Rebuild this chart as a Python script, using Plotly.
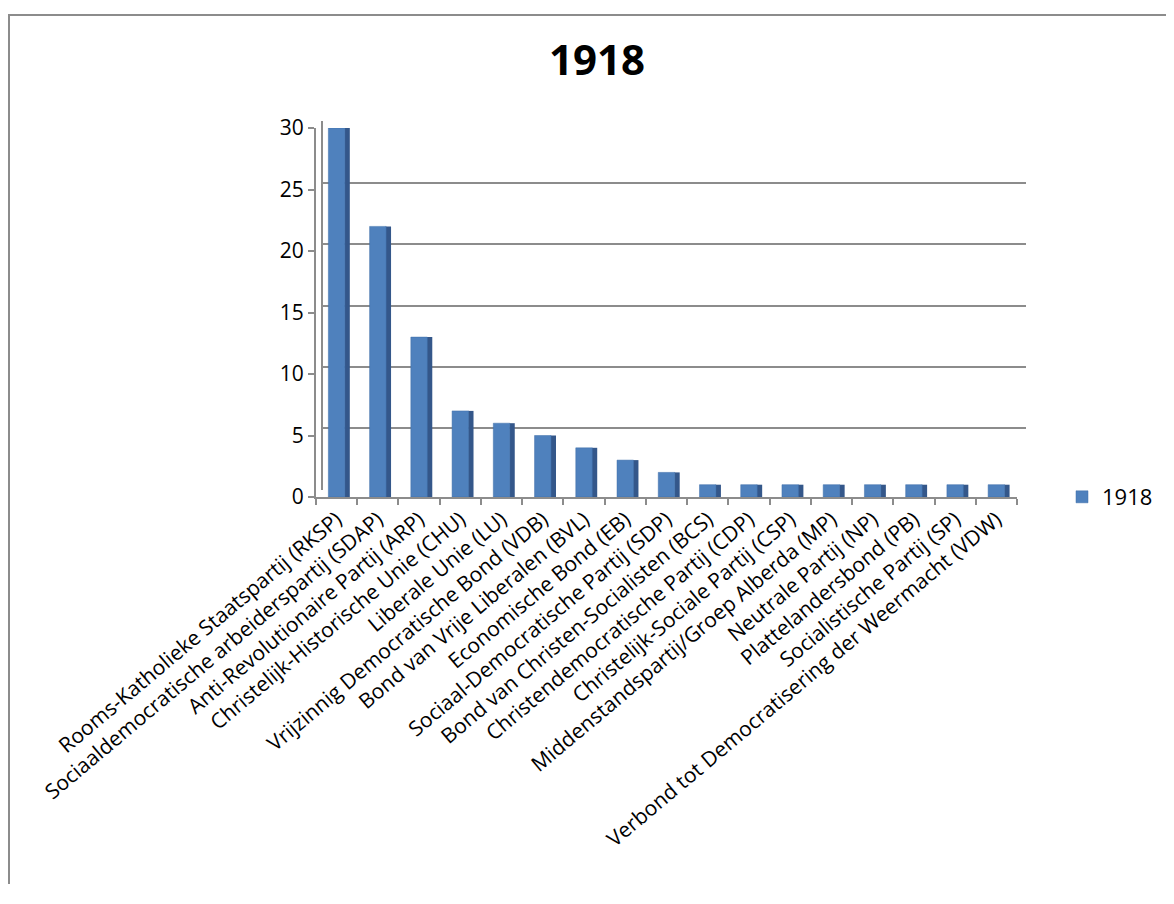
import plotly.graph_objects as go

categories = [
    "Rooms-Katholieke Staatspartij (RKSP)",
    "Sociaaldemocratische arbeiderspartij (SDAP)",
    "Anti-Revolutionaire Partij (ARP)",
    "Christelijk-Historische Unie (CHU)",
    "Liberale Unie (LU)",
    "Vrijzinnig Democratische Bond (VDB)",
    "Bond van Vrije Liberalen (BVL)",
    "Economische Bond (EB)",
    "Sociaal-Democratische Partij (SDP)",
    "Bond van Christen-Socialisten (BCS)",
    "Christendemocratische Partij (CDP)",
    "Christelijk-Sociale Partij (CSP)",
    "Middenstandspartij/Groep Alberda (MP)",
    "Neutrale Partij (NP)",
    "Plattelandersbond (PB)",
    "Socialistische Partij (SP)",
    "Verbond tot Democratisering der Weermacht (VDW)",
]
seats_1918 = [30, 22, 13, 7, 6, 5, 4, 3, 2, 1, 1, 1, 1, 1, 1, 1, 1]
y_ticks = [0, 5, 10, 15, 20, 25, 30]

FONT = "Open Sans"
GRAY = "#8C8C8C"
W, H = 1166, 876
L, T = 308, 113
PW, PH = 710, 376
R, B = W - L - PW, H - T - PH

fig = go.Figure()
# back wall subplot (carries the gridlines); its bars are fully transparent
fig.add_trace(go.Bar(
    x=categories, y=seats_1918, marker=dict(opacity=0),
    showlegend=False, hoverinfo="skip", xaxis="x", yaxis="y",
))
# side face (3D look), on the front subplot
fig.add_trace(go.Bar(
    x=categories, y=seats_1918, width=0.13, offset=0.19,
    marker=dict(color="#34578A", line=dict(width=0)),
    showlegend=False, hoverinfo="skip", xaxis="x2", yaxis="y2",
))
# front face
fig.add_trace(go.Bar(
    x=categories, y=seats_1918, width=0.4, offset=-0.2,
    name="1918", xaxis="x2", yaxis="y2",
    marker=dict(color="#4F81BD", line=dict(color="#3F6FA8", width=0.5)),
))

front_top = (489 - 120) / PH
front_right = (1009 - L) / PW
back_left = 7 / PW
back_bottom = 7 / PH

fig.update_layout(
    barmode="overlay",
    width=W, height=H,
    margin=dict(l=L, r=R, t=T, b=B, autoexpand=False),
    paper_bgcolor="white", plot_bgcolor="rgba(0,0,0,0)",
    title=dict(text="<b>1918</b>", x=589 / W, xanchor="center",
               y=1 - 52 / H, yanchor="middle",
               font=dict(family=FONT, size=42, color="black")),
    font=dict(family=FONT, color="black"),
    legend=dict(xref="container", yref="container",
                x=1054 / W, y=(H - 489) / H, xanchor="left", yanchor="middle",
                font=dict(family=FONT, size=22, color="black"),
                bgcolor="rgba(0,0,0,0)"),
    # back wall: gridlines only
    xaxis=dict(domain=[back_left, 1], range=[-0.5, 16.5], visible=False,
               anchor="y"),
    yaxis=dict(domain=[back_bottom, 1], range=[-0.03, 30.03], tickvals=y_ticks,
               showticklabels=False, ticks="", anchor="x",
               showline=True, linecolor=GRAY, linewidth=2,
               showgrid=True, gridcolor=GRAY, gridwidth=2, zeroline=False),
    # front axes with the bars
    xaxis2=dict(
        domain=[0, front_right], anchor="y2",
        tickangle=-40, tickfont=dict(family=FONT, size=21, color="black"),
        showline=True, linecolor=GRAY, linewidth=2,
        ticks="outside", ticklen=6, tickcolor=GRAY, tickwidth=2,
        showgrid=False, range=[-0.5, 16.5], tickson="boundaries",
    ),
    yaxis2=dict(
        domain=[0, front_top], anchor="x2",
        range=[0, 30], tickvals=y_ticks,
        tickfont=dict(family=FONT, size=21, color="black"),
        showline=True, linecolor=GRAY, linewidth=2,
        ticks="outside", ticklen=6, tickcolor=GRAY, tickwidth=2,
        showgrid=False, zeroline=False,
    ),
)

# chart border (left and top edges fall inside the view)
fig.add_shape(type="rect", xref="paper", yref="paper",
              x0=(1 - L) / PW, x1=(W + 4 - L) / PW,
              y0=(PH + T - H - 4) / PH, y1=(PH + T - 7) / PH,
              line=dict(color=GRAY, width=2), fillcolor="rgba(0,0,0,0)",
              layer="below")

fig.write_html("out.html")
